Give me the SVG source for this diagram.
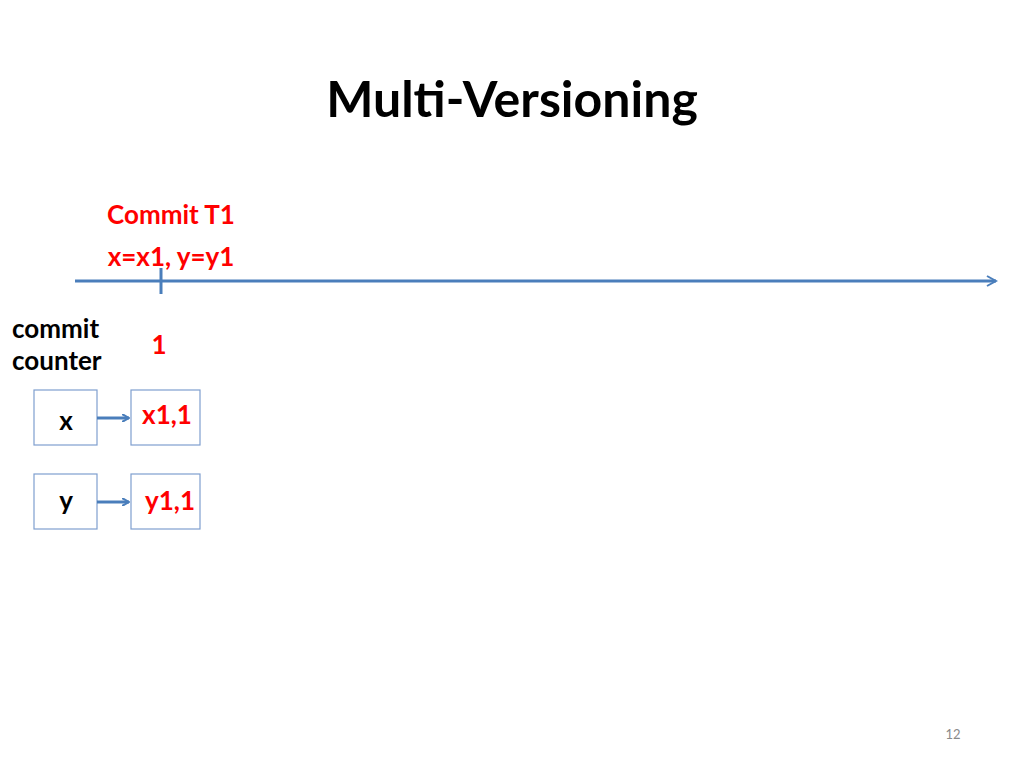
<svg xmlns="http://www.w3.org/2000/svg" width="1024" height="768" viewBox="0 0 1024 768">
<style>
text{font-family:Lato,"Open Sans",sans-serif;font-weight:bold}
.r{fill:#ff0000}
.k{fill:#000}
.box{fill:#fff;stroke:#7f9fcf;stroke-width:1.2}
.ln{stroke:#4a7ebb;stroke-width:3;fill:none}
</style>
<defs>
<marker id="a" markerWidth="8" markerHeight="8" refX="7" refY="4" orient="auto" markerUnits="userSpaceOnUse" viewBox="0 0 8 8">
<path d="M0,0 L7,4 L0,8" fill="none" stroke="#4a7ebb" stroke-width="2"/>
</marker>
<marker id="b" markerWidth="12" markerHeight="12" refX="10" refY="6" orient="auto" markerUnits="userSpaceOnUse" viewBox="0 0 12 12">
<path d="M1,1 L10,6 L1,11" fill="none" stroke="#4a7ebb" stroke-width="2"/>
</marker>
</defs>
<rect width="1024" height="768" fill="#fff"/>
<text x="512" y="117" text-anchor="middle" font-size="50" class="k">Multi-Versioning</text>
<g id="timeline">
<text x="171" y="224" text-anchor="middle" font-size="26" class="r">Commit T1</text>
<text x="171" y="266" text-anchor="middle" font-size="26" class="r">x=x1, y=y1</text>
</g>
<g id="counter">
<text x="12" y="338" font-size="26" class="k">commit</text>
<text x="12" y="370" font-size="26" class="k">counter</text>
<text x="159" y="354" text-anchor="middle" font-size="26" class="r">1</text>
</g>
<g id="x"><rect class="box" x="34" y="390" width="63" height="55"/><text x="66" y="430" text-anchor="middle" font-size="26" class="k">x</text></g>
<g id="x11"><rect class="box" x="131" y="390" width="69" height="55"/><text x="167" y="424" text-anchor="middle" font-size="26" class="r">x1,1</text></g>
<g id="y"><rect class="box" x="34" y="474" width="63" height="55"/><text x="66" y="510" text-anchor="middle" font-size="26" class="k">y</text></g>
<g id="y11"><rect class="box" x="131" y="474" width="69" height="55"/><text x="170" y="510" text-anchor="middle" font-size="26" class="r">y1,1</text></g>
<g id="connectors">
<line class="ln" x1="75" y1="281" x2="996" y2="281" marker-end="url(#b)"/>
<line class="ln" x1="161" y1="268" x2="161" y2="294" stroke-width="2"/>
<line class="ln" x1="97" y1="418" x2="129" y2="418" marker-end="url(#a)"/>
<line class="ln" x1="97" y1="502" x2="129" y2="502" marker-end="url(#a)"/>
</g>
<text x="953" y="739" text-anchor="middle" font-size="13" style="font-weight:normal" fill="#8a8a8a">12</text>
</svg>
